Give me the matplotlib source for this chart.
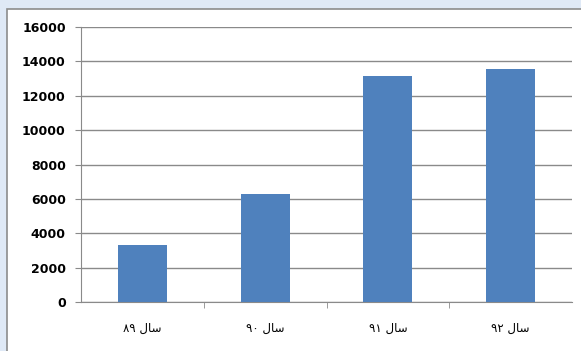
import matplotlib.pyplot as plt
from matplotlib.patches import Rectangle

# Yearly totals
years = ['۸۹', '۹۰', '۹۱', '۹۲']
values = [3300, 6300, 13150, 13550]
y_ticks = [0, 2000, 4000, 6000, 8000, 10000, 12000, 14000, 16000]

# matplotlib has no Arabic shaping, so write "سال" with presentation forms in visual order
word = '\ufedd\ufe8e\ufeb3'
labels = [y + ' ' + word for y in years]

fig = plt.figure(figsize=(5.81, 3.51), dpi=100, facecolor='#dfe9f6')

# white chart frame, kept under the axes
fig.patches.append(Rectangle((7 / 581, -0.1), 1.1, 1 - 9 / 351 + 0.1,
                             transform=fig.transFigure, facecolor='white',
                             edgecolor='#8c8c8c', linewidth=1.2, zorder=-10))

ax = fig.add_axes([81 / 581, 1 - 302 / 351, 491 / 581, 275 / 351])
ax.set_zorder(1)
ax.set_facecolor('white')

x = range(len(values))
ax.bar(x, values, width=0.4, color='#4f81bd', zorder=3)

ax.set_xlim(-0.5, 3.5)
ax.set_ylim(0, 16000)
ax.set_yticks(y_ticks)
ax.set_yticklabels([str(t) for t in y_ticks], fontsize=9, fontweight='bold',
                   fontfamily='DejaVu Sans')
ax.yaxis.grid(True, color='#8a8a8a', linewidth=1)
ax.set_axisbelow(True)

ax.set_xticks(list(x))
ax.set_xticklabels(labels, fontsize=8.5, fontfamily='DejaVu Sans')
ax.tick_params(axis='x', which='major', length=0, pad=14)
ax.set_xticks([0.5, 1.5, 2.5], minor=True)
ax.tick_params(axis='x', which='minor', length=4, color='#8a8a8a', direction='out')
ax.tick_params(axis='y', length=4, color='#8a8a8a', pad=7)

for side in ['top', 'right']:
    ax.spines[side].set_visible(False)
for side in ['left', 'bottom']:
    ax.spines[side].set_color('#8a8a8a')

fig.savefig('out.png', dpi=100, facecolor=fig.get_facecolor())
